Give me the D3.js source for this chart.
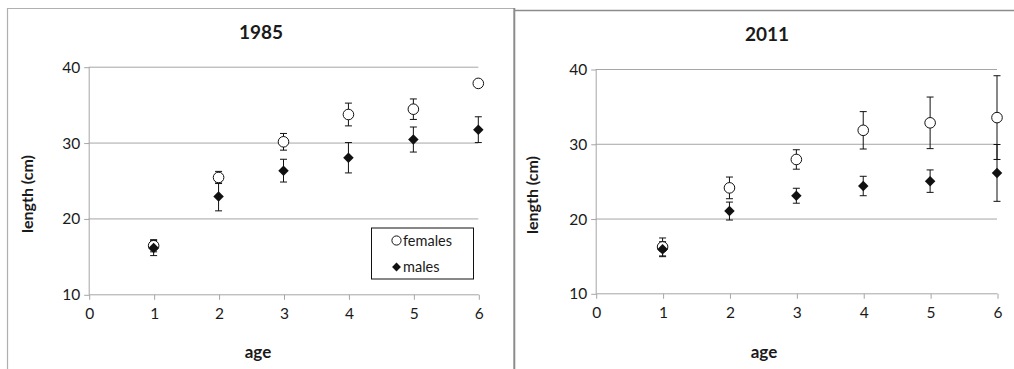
<!DOCTYPE html>
<html>
<head>
<meta charset="utf-8">
<script src="https://cdn.jsdelivr.net/npm/d3@7/dist/d3.min.js"></script>
<style>
  html, body { margin: 0; padding: 0; background: #fff; }
  svg { display: block; font-family: Lato, "Open Sans", sans-serif; }
</style>
</head>
<body>
<svg id="chart" width="1014" height="369"></svg>
<script>
// ---- data ----
const ages = [1, 2, 3, 4, 5, 6];
const xTicks = [0, 1, 2, 3, 4, 5, 6];
const yTicks = [10, 20, 30, 40];
const seriesNames = ["females", "males"];

const females1985 = [16.4, 25.4, 30.1, 33.7, 34.4, 37.8];
const femalesErr1985 = [0.8, 0.8, 1.1, 1.5, 1.35, 0];
const males1985 = [16.1, 22.9, 26.3, 28.0, 30.4, 31.7];
const malesErr1985 = [1.0, 1.9, 1.5, 2.0, 1.65, 1.7];

const females2011 = [16.2, 24.1, 27.9, 31.8, 32.8, 33.5];
const femalesErr2011 = [1.2, 1.45, 1.3, 2.5, 3.45, 5.6];
const males2011 = [15.9, 21.0, 23.05, 24.35, 25.0, 26.1];
const malesErr2011 = [1.0, 1.2, 1.0, 1.3, 1.5, 3.8];

const svg = d3.select("#chart");
const gridColor = "#a6a6a6";
const textColor = "#1a1a1a";

// frames
svg.append("line").attr("x1", 7.5).attr("x2", 7.5).attr("y1", 8).attr("y2", 369)
  .attr("stroke", "#b0b0b0").attr("stroke-width", 1.2);
svg.append("line").attr("x1", 7.5).attr("x2", 515).attr("y1", 8.5).attr("y2", 8.5)
  .attr("stroke", "#b0b0b0").attr("stroke-width", 1.2);
svg.append("line").attr("x1", 514.3).attr("x2", 514.3).attr("y1", 8).attr("y2", 369)
  .attr("stroke", "#8c8c8c").attr("stroke-width", 2);
svg.append("line").attr("x1", 515).attr("x2", 1014).attr("y1", 10.5).attr("y2", 10.5)
  .attr("stroke", "#8c8c8c").attr("stroke-width", 1.5);

function drawPanel(opt) {
  const x = d3.scaleLinear().domain([0, 6]).range([opt.x0, opt.x1]);
  const y = d3.scaleLinear().domain([10, 40]).range([opt.y0, opt.y1]);
  const g = svg.append("g");

  // gridlines
  g.selectAll(".grid").data(yTicks.filter(t => t > 10)).enter().append("line")
    .attr("x1", x(0)).attr("x2", x(6))
    .attr("y1", d => y(d) + 0.5).attr("y2", d => y(d) + 0.5)
    .attr("stroke", gridColor).attr("stroke-width", 1);

  // y axis
  const ya = g.append("g").attr("transform", `translate(${x(0) + 0.5},0.5)`)
    .call(d3.axisLeft(y).tickValues(yTicks).tickSize(5).tickPadding(4).tickFormat(d3.format("d")));
  ya.select(".domain").attr("stroke", gridColor).attr("d", `M0,${y(10)}V${y(40)}`);
  ya.selectAll(".tick line").attr("stroke", gridColor);
  ya.selectAll(".tick text").attr("fill", textColor).style("font-size", "15.5px")
    .style("font-family", "Lato, 'Open Sans', sans-serif");

  // x axis
  const xa = g.append("g").attr("transform", `translate(0.5,${y(10) + 0.5})`)
    .call(d3.axisBottom(x).tickValues(xTicks).tickSize(5).tickPadding(8).tickFormat(d3.format("d")));
  xa.select(".domain").attr("stroke", gridColor).attr("d", `M${x(0)},0H${x(6)}`);
  xa.selectAll(".tick line").attr("stroke", gridColor);
  xa.selectAll(".tick text").attr("fill", textColor).style("font-size", "15.5px")
    .style("font-family", "Lato, 'Open Sans', sans-serif");

  // title
  g.append("text").attr("x", opt.titleX).attr("y", opt.titleY)
    .attr("text-anchor", "middle").attr("font-weight", "bold").attr("font-size", 19)
    .attr("fill", textColor).text(opt.title);
  // axis labels
  g.append("text").attr("transform", `translate(${opt.ylabX},${opt.ylabY}) rotate(-90)`)
    .attr("text-anchor", "middle").attr("font-weight", "bold").attr("font-size", 16)
    .attr("fill", textColor).text("length (cm)");
  g.append("text").attr("x", opt.xlabX).attr("y", 358)
    .attr("text-anchor", "middle").attr("font-weight", "bold").attr("font-size", 17)
    .attr("fill", textColor).text("age");

  const series = [
    { vals: opt.f, err: opt.fe, kind: "circle" },
    { vals: opt.m, err: opt.me, kind: "diamond" }
  ];
  // error bars
  series.forEach(s => {
    const eb = g.append("g");
    ages.forEach((a, i) => {
      if (!s.err[i]) return;
      const cx = x(a), top = y(s.vals[i] + s.err[i]), bot = y(s.vals[i] - s.err[i]);
      eb.append("line").attr("x1", cx).attr("x2", cx).attr("y1", top).attr("y2", bot)
        .attr("stroke", "#111").attr("stroke-width", 1);
      [top, bot].forEach(yy => eb.append("line").attr("x1", cx - 3.5).attr("x2", cx + 3.5)
        .attr("y1", yy).attr("y2", yy).attr("stroke", "#111").attr("stroke-width", 1));
    });
  });
  // markers
  const diamond = d3.symbol().type(d3.symbolDiamond2).size(70);
  series.forEach(s => {
    const mg = g.append("g");
    if (s.kind === "circle") {
      mg.selectAll("circle").data(ages).enter().append("circle")
        .attr("cx", d => x(d)).attr("cy", (d, i) => y(s.vals[i])).attr("r", 5.3)
        .attr("fill", "#fff").attr("stroke", "#111").attr("stroke-width", 1);
    } else {
      mg.selectAll("path").data(ages).enter().append("path")
        .attr("transform", (d, i) => `translate(${x(d)},${y(s.vals[i])})`)
        .attr("d", diamond).attr("fill", "#111");
    }
  });

  // legend
  if (opt.legend) {
    const L = opt.legend;
    const lg = g.append("g");
    lg.append("rect").attr("x", L.x + 0.5).attr("y", L.y + 0.5).attr("width", L.w).attr("height", L.h)
      .attr("fill", "#fff").attr("stroke", "#111").attr("stroke-width", 1);
    seriesNames.forEach((name, i) => {
      const cy = L.y + 13 + i * 26.5;
      if (i === 0) {
        lg.append("circle").attr("cx", L.x + 25.5).attr("cy", cy).attr("r", 4.6)
          .attr("fill", "#fff").attr("stroke", "#111").attr("stroke-width", 1);
      } else {
        lg.append("path").attr("transform", `translate(${L.x + 25.5},${cy})`)
          .attr("d", d3.symbol().type(d3.symbolDiamond2).size(50)).attr("fill", "#111");
      }
      lg.append("text").attr("x", L.x + 32).attr("y", cy + 5).attr("font-size", 14.5)
        .attr("fill", textColor).text(name);
    });
  }
}

drawPanel({
  x0: 88.7, x1: 478.3, y0: 294.3, y1: 66.7,
  title: "1985", titleX: 261, titleY: 39,
  ylabX: 33, ylabY: 194, xlabX: 258,
  f: females1985, fe: femalesErr1985, m: males1985, me: malesErr1985,
  legend: { x: 371, y: 227.5, w: 102, h: 51 }
});
drawPanel({
  x0: 595.7, x1: 997, y0: 293.3, y1: 69,
  title: "2011", titleX: 767, titleY: 41,
  ylabX: 538, ylabY: 195, xlabX: 764,
  f: females2011, fe: femalesErr2011, m: males2011, me: malesErr2011
});
</script>
</body>
</html>
